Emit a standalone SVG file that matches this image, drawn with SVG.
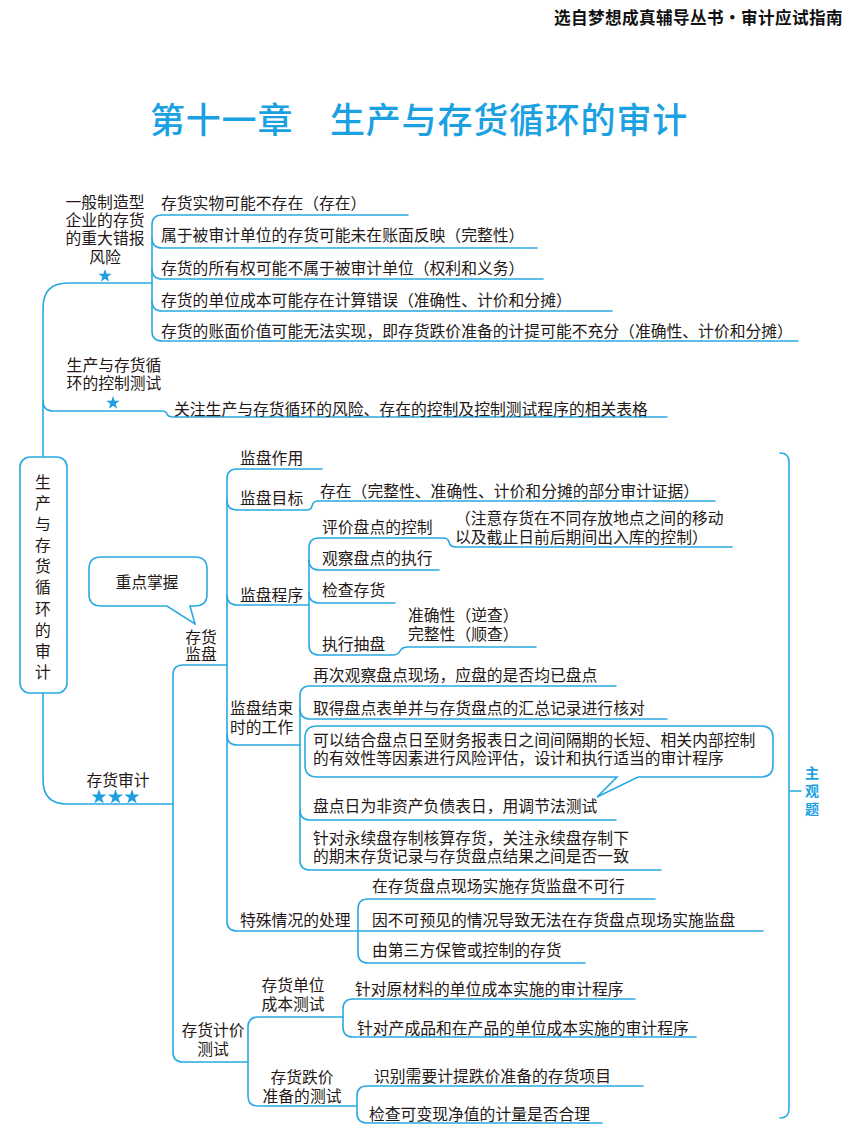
<svg xmlns="http://www.w3.org/2000/svg" width="864" height="1145" viewBox="0 0 864 1145">
<style>
.t{font-family:"Liberation Sans","Noto Sans CJK SC",sans-serif;font-size:15.8px;fill:#231815}
.m{text-anchor:middle}
.ln{fill:none;stroke:#29a9e1;stroke-width:1.6;stroke-linecap:round;stroke-linejoin:round}
.box{fill:#fff;stroke:#29a9e1;stroke-width:1.6}
.star{fill:#1ea0e0}
.hd{font-family:"Noto Sans CJK SC",sans-serif;font-size:16.6px;font-weight:700;fill:#111;letter-spacing:0.4px}
.ti{font-family:"Noto Sans CJK SC",sans-serif;font-size:35px;font-weight:500;fill:#1ba1e2;letter-spacing:0.8px}
.zg{font-family:"Liberation Sans","Noto Sans CJK SC",sans-serif;font-size:14px;font-weight:700;fill:#1ba1e2;text-anchor:middle}
</style>
<defs>
<polygon id="star" points="0,-7 1.65,-2.27 6.66,-2.16 2.66,0.87 4.11,5.66 0,2.8 -4.11,5.66 -2.66,0.87 -6.66,-2.16 -1.65,-2.27"/>
</defs>
<rect width="864" height="1145" fill="#fff"/>
<text class="hd" x="843" y="24" text-anchor="end">选自梦想成真辅导丛书·审计应试指南</text>
<text class="ti" x="150" y="133">第十一章</text>
<text class="ti" x="330" y="133">生产与存货循环的审计</text>

<g id="connectors">
<path class="ln" d="M152 283 L68 283 Q43 283 43 308 L43 457"/>
<path class="ln" d="M43 401 Q43 411 53 411 L162 411 Q166 411 167 414 Q168 417 173 417 L667 417"/>
<path class="ln" d="M43 693 L43 780 Q43 804 67 804 L173 804"/>
<path class="ln" d="M408 215 L162 215 Q152 215 152 225 L152 331 Q152 341 162 341 L798 341"/>
<path class="ln" d="M152 238 Q152 248 162 248 L537 248"/>
<path class="ln" d="M152 269 Q152 279 162 279 L543 279"/>
<path class="ln" d="M152 301 Q152 311 162 311 L612 311"/>
<path class="ln" d="M227 665 L183 665 Q173 665 173 675 L173 1052 Q173 1062 183 1062 L248 1062"/>
<path class="ln" d="M322 469 L237 469 Q227 469 227 479 L227 921 Q227 931 237 931 L358 931 L763 931"/>
<path class="ln" d="M227 500 Q227 510 237 510 L307 510 Q311 510 312 506 Q313 501 318 501 L715 501"/>
<path class="ln" d="M227 595 Q227 605 237 605 L309 605"/>
<path class="ln" d="M227 735 Q227 745 237 745 L300 745"/>
<path class="ln" d="M732 547 L456 547 Q450 547 449 542 Q448 538 443 538 L319 538 Q309 538 309 548 L309 645 Q309 655 319 655 L393 655 Q398 655 400 651 Q402 647 408 647 L536 647"/>
<path class="ln" d="M309 560 Q309 570 319 570 L439 570"/>
<path class="ln" d="M309 593 Q309 603 319 603 L395 603"/>
<path class="ln" d="M616 686 L310 686 Q300 686 300 696 L300 860 Q300 870 310 870 L661 870"/>
<path class="ln" d="M300 709 Q300 719 310 719 L667 719"/>
<path class="ln" d="M300 810 Q300 820 310 820 L616 820"/>
<path class="ln" d="M655 899 L368 899 Q358 899 358 909 L358 953 Q358 963 368 963 L585 963"/>
<path class="ln" d="M343 1017 L258 1017 Q248 1017 248 1027 L248 1096 Q248 1106 258 1106 L357 1106"/>
<path class="ln" d="M635 999 L353 999 Q343 999 343 1009 L343 1027 Q343 1037 353 1037 L696 1037"/>
<path class="ln" d="M643 1086 L367 1086 Q357 1086 357 1096 L357 1113 Q357 1123 367 1123 L602 1123"/>
<path class="ln" d="M780 453 Q789 453 789 462 L789 1109 Q789 1118 780 1118 M789 791 L801 791"/>
</g>

<g id="root">
<rect class="box" x="20" y="457" width="47" height="236" rx="10"/>
<text class="t m"><tspan x="43" y="488">生</tspan><tspan x="43" y="509">产</tspan><tspan x="43" y="530">与</tspan><tspan x="43" y="551">存</tspan><tspan x="43" y="572">货</tspan><tspan x="43" y="593">循</tspan><tspan x="43" y="615">环</tspan><tspan x="43" y="636">的</tspan><tspan x="43" y="657">审</tspan><tspan x="43" y="678">计</tspan></text>
</g>

<g id="risk">
<text class="t m"><tspan x="105" y="208">一般制造型</tspan><tspan x="105" y="226">企业的存货</tspan><tspan x="105" y="244">的重大错报</tspan><tspan x="105" y="263">风险</tspan></text>
<use href="#star" class="star" x="105" y="276"/>
</g>
<g id="risk-items">
<text class="t" x="161" y="209">存货实物可能不存在（存在）</text>
<text class="t" x="161" y="241">属于被审计单位的存货可能未在账面反映（完整性）</text>
<text class="t" x="161" y="274">存货的所有权可能不属于被审计单位（权利和义务）</text>
<text class="t" x="161" y="306">存货的单位成本可能存在计算错误（准确性、计价和分摊）</text>
<text class="t" x="161" y="337">存货的账面价值可能无法实现，即存货跌价准备的计提可能不充分（准确性、计价和分摊）</text>
</g>

<g id="control">
<text class="t m"><tspan x="114" y="371">生产与存货循</tspan><tspan x="114" y="389">环的控制测试</tspan></text>
<use href="#star" class="star" x="113" y="403"/>
<text class="t" x="174" y="415">关注生产与存货循环的风险、存在的控制及控制测试程序的相关表格</text>
</g>

<g id="audit">
<text class="t m" x="118" y="786">存货审计</text>
<use href="#star" class="star" transform="translate(99 797) scale(1.12)"/>
<use href="#star" class="star" transform="translate(115.5 797) scale(1.12)"/>
<use href="#star" class="star" transform="translate(132 797) scale(1.12)"/>
</g>

<g id="key-callout">
<path class="box" d="M101 557 L195 557 Q207 557 207 569 L207 594 Q207 606 195 606 L190 606 L195 624 L167 606 L101 606 Q89 606 89 594 L89 569 Q89 557 101 557 Z"/>
<text class="t m" x="147" y="588">重点掌握</text>
</g>

<g id="observe">
<text class="t m"><tspan x="201" y="643">存货</tspan><tspan x="201" y="660">监盘</tspan></text>
</g>
<g id="obs-role"><text class="t" x="240" y="464">监盘作用</text></g>
<g id="obs-goal">
<text class="t" x="240" y="504">监盘目标</text>
<text class="t" x="320" y="497">存在（完整性、准确性、计价和分摊的部分审计证据）</text>
</g>
<g id="obs-proc">
<text class="t" x="240" y="601">监盘程序</text>
<text class="t" x="322" y="533">评价盘点的控制</text>
<text class="t"><tspan x="455" y="524">（注意存货在不同存放地点之间的移动</tspan><tspan x="455" y="543">以及截止日前后期间出入库的控制）</tspan></text>
<text class="t" x="322" y="564">观察盘点的执行</text>
<text class="t" x="322" y="596">检查存货</text>
<text class="t" x="322" y="650">执行抽盘</text>
<text class="t"><tspan x="408" y="621">准确性（逆查）</tspan><tspan x="408" y="640">完整性（顺查）</tspan></text>
</g>
<g id="obs-end">
<text class="t"><tspan x="230" y="714">监盘结束</tspan><tspan x="230" y="733">时的工作</tspan></text>
<text class="t" x="313" y="681">再次观察盘点现场，应盘的是否均已盘点</text>
<text class="t" x="313" y="714">取得盘点表单并与存货盘点的汇总记录进行核对</text>
<path class="box" d="M317 726 L761 726 Q773 726 773 738 L773 765 Q773 777 761 777 L638 777 L597 797 L617 777 L317 777 Q305 777 305 765 L305 738 Q305 726 317 726 Z"/>
<text class="t"><tspan x="313" y="746">可以结合盘点日至财务报表日之间间隔期的长短、相关内部控制</tspan><tspan x="313" y="764">的有效性等因素进行风险评估，设计和执行适当的审计程序</tspan></text>
<text class="t" x="313" y="812">盘点日为非资产负债表日，用调节法测试</text>
<text class="t"><tspan x="313" y="844">针对永续盘存制核算存货，关注永续盘存制下</tspan><tspan x="313" y="862">的期末存货记录与存货盘点结果之间是否一致</tspan></text>
</g>
<g id="obs-special">
<text class="t" x="240" y="926">特殊情况的处理</text>
<text class="t" x="372" y="892">在存货盘点现场实施存货监盘不可行</text>
<text class="t" x="372" y="926">因不可预见的情况导致无法在存货盘点现场实施监盘</text>
<text class="t" x="372" y="956">由第三方保管或控制的存货</text>
</g>

<g id="valuation">
<text class="t m"><tspan x="213" y="1036">存货计价</tspan><tspan x="213" y="1055">测试</tspan></text>
</g>
<g id="val-cost">
<text class="t m"><tspan x="293" y="991">存货单位</tspan><tspan x="293" y="1010">成本测试</tspan></text>
<text class="t" x="355" y="995">针对原材料的单位成本实施的审计程序</text>
<text class="t" x="357" y="1034">针对产成品和在产品的单位成本实施的审计程序</text>
</g>
<g id="val-impair">
<text class="t m"><tspan x="302" y="1083">存货跌价</tspan><tspan x="302" y="1102">准备的测试</tspan></text>
<text class="t" x="374" y="1082">识别需要计提跌价准备的存货项目</text>
<text class="t" x="369" y="1120">检查可变现净值的计量是否合理</text>
</g>

<g id="subjective">
<text class="zg"><tspan x="812" y="778">主</tspan><tspan x="812" y="796">观</tspan><tspan x="812" y="814">题</tspan></text>
</g>
</svg>
